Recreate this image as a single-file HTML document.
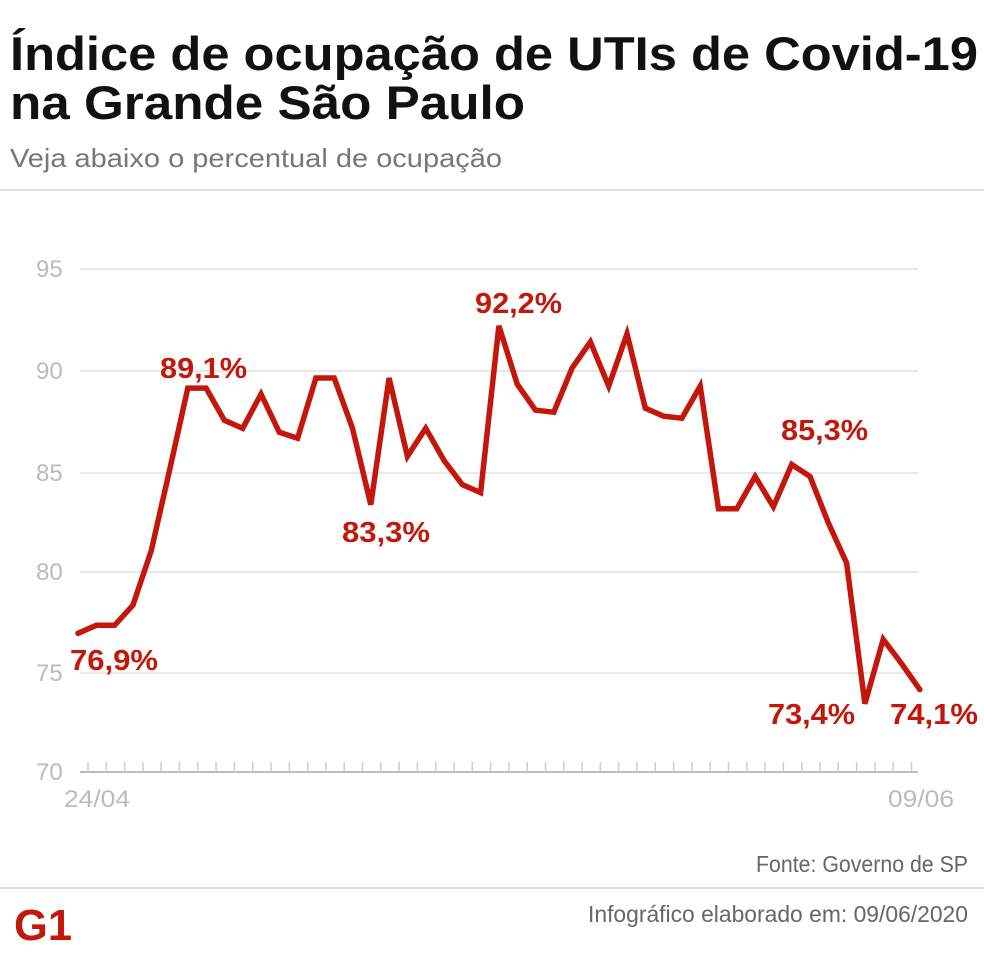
<!DOCTYPE html>
<html><head><meta charset="utf-8"><style>
html,body{margin:0;padding:0;background:#fff}
svg{display:block}
text{font-family:"Liberation Sans",sans-serif}
</style></head><body>
<svg width="984" height="963" viewBox="0 0 984 963" xmlns="http://www.w3.org/2000/svg">
<text x="10" y="70" font-size="47" font-weight="bold" fill="#111" textLength="968" lengthAdjust="spacingAndGlyphs">Índice de ocupação de UTIs de Covid-19</text>
<text x="10" y="119" font-size="47" font-weight="bold" fill="#111" textLength="515" lengthAdjust="spacingAndGlyphs">na Grande São Paulo</text>
<text x="10" y="167" font-size="26" fill="#777" textLength="492" lengthAdjust="spacingAndGlyphs">Veja abaixo o percentual de ocupação</text>
<line x1="0" y1="190" x2="984" y2="190" stroke="#ddd" stroke-width="2"/>
<g stroke="#e0e0e0" stroke-width="1.5">
<line x1="80" y1="269" x2="918" y2="269"/>
<line x1="80" y1="371" x2="918" y2="371"/>
<line x1="80" y1="473" x2="918" y2="473"/>
<line x1="80" y1="572" x2="918" y2="572"/>
<line x1="80" y1="673" x2="918" y2="673"/>
</g>
<line x1="80" y1="772" x2="918" y2="772" stroke="#bbb" stroke-width="2"/>
<g id="ticks" stroke="#ccc" stroke-width="1.5"></g>
<g font-size="24" fill="#bbb">
<text x="36" y="277">95</text>
<text x="36" y="379">90</text>
<text x="36" y="481">85</text>
<text x="36" y="580">80</text>
<text x="36" y="681">75</text>
<text x="36" y="780">70</text>
<text x="64" y="807" textLength="66" lengthAdjust="spacingAndGlyphs">24/04</text>
<text x="888" y="807" textLength="66" lengthAdjust="spacingAndGlyphs">09/06</text>
</g>
<polyline id="line" fill="none" stroke="#c4170c" stroke-width="5.5" stroke-linejoin="miter" stroke-linecap="round" points=""/>
<g font-size="29" font-weight="bold" fill="#c4170c">
<text x="70" y="670" textLength="88" lengthAdjust="spacingAndGlyphs">76,9%</text>
<text x="160" y="378" textLength="87" lengthAdjust="spacingAndGlyphs">89,1%</text>
<text x="342" y="542" textLength="88" lengthAdjust="spacingAndGlyphs">83,3%</text>
<text x="475" y="313" textLength="87" lengthAdjust="spacingAndGlyphs">92,2%</text>
<text x="781" y="440" textLength="87" lengthAdjust="spacingAndGlyphs">85,3%</text>
<text x="768" y="724" textLength="87" lengthAdjust="spacingAndGlyphs">73,4%</text>
<text x="890" y="724" textLength="88" lengthAdjust="spacingAndGlyphs">74,1%</text>
</g>
<text x="968" y="872" font-size="23" fill="#666" text-anchor="end" textLength="212" lengthAdjust="spacingAndGlyphs">Fonte: Governo de SP</text>
<line x1="0" y1="888" x2="984" y2="888" stroke="#ddd" stroke-width="2"/>
<text x="968" y="922" font-size="23" fill="#666" text-anchor="end" textLength="380" lengthAdjust="spacingAndGlyphs">Infográfico elaborado em: 09/06/2020</text>
<text x="14" y="940" font-size="44" font-weight="bold" fill="#c4170c" textLength="58" lengthAdjust="spacingAndGlyphs">G1</text>
</svg>
<script>
var v=[76.9,77.3,77.3,78.3,81,85,89.1,89.1,87.5,87.1,88.8,86.9,86.6,89.6,89.6,87.1,83.3,89.6,85.7,87.1,85.5,84.3,83.9,92.2,89.3,88.0,87.9,90.1,91.4,89.2,91.8,88.1,87.7,87.6,89.2,83.1,83.1,84.7,83.2,85.3,84.7,82.4,80.4,73.4,76.6,75.4,74.1];
var p=[];for(var i=0;i<v.length;i++){p.push((78+i*18.3).toFixed(1)+","+(772-(v[i]-70)*20.1).toFixed(1));}
document.getElementById("line").setAttribute("points",p.join(" "));
var g=document.getElementById("ticks"),s="";
for(var i=0;i<46;i++){var x=(88+i*18.3).toFixed(1);s+='<line x1="'+x+'" y1="762" x2="'+x+'" y2="772"/>';}
g.innerHTML=s;
</script>
</body></html>
